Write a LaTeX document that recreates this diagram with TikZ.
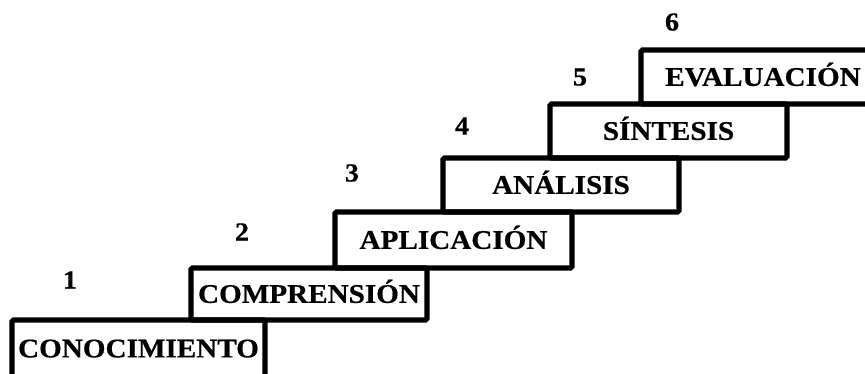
\documentclass[tikz,border=0pt]{standalone}
\usepackage{fontspec}
\setmainfont{Liberation Serif}[FakeStretch=1.08, BoldFeatures={FakeBold=0.6}]
\begin{document}
\begin{tikzpicture}[x=1pt,y=1pt,
  stepbox/.style={draw, line width=5.2pt, rounded corners=1.5pt, inner sep=0pt,
    text height=17.8pt, text depth=0pt, font=\bfseries\fontsize{27}{31}\selectfont},
  num/.style={inner sep=0pt, text height=17pt, text depth=0pt, font=\bfseries\fontsize{26}{30}\selectfont}]
\useasboundingbox (0,0) rectangle (865,373);
\clip (0,0) rectangle (865,373);
\node[stepbox, minimum width=253pt, minimum height=57pt] (b1) at (138.5,24.5) {CONOCIMIENTO};
\node[stepbox, minimum width=236pt, minimum height=52pt] (b2) at (309,79) {COMPRENSIÓN};
\node[stepbox, minimum width=237pt, minimum height=56pt] (b3) at (453.5,133) {APLICACIÓN};
\node[stepbox, minimum width=236pt, minimum height=54pt] (b4) at (561,188) {ANÁLISIS};
\node[stepbox, minimum width=237pt, minimum height=54pt] (b5) at (668.5,242) {SÍNTESIS};
\node[stepbox, minimum width=244pt, minimum height=54pt] (b6) at (763,296) {EVALUACIÓN};
\node[num] (n1) at (70,93) {1};
\node[num] (n2) at (242,141) {2};
\node[num] (n3) at (352,200) {3};
\node[num] (n4) at (462,247) {4};
\node[num] (n5) at (580,296) {5};
\node[num] (n6) at (672,351) {6};
\end{tikzpicture}
\end{document}
